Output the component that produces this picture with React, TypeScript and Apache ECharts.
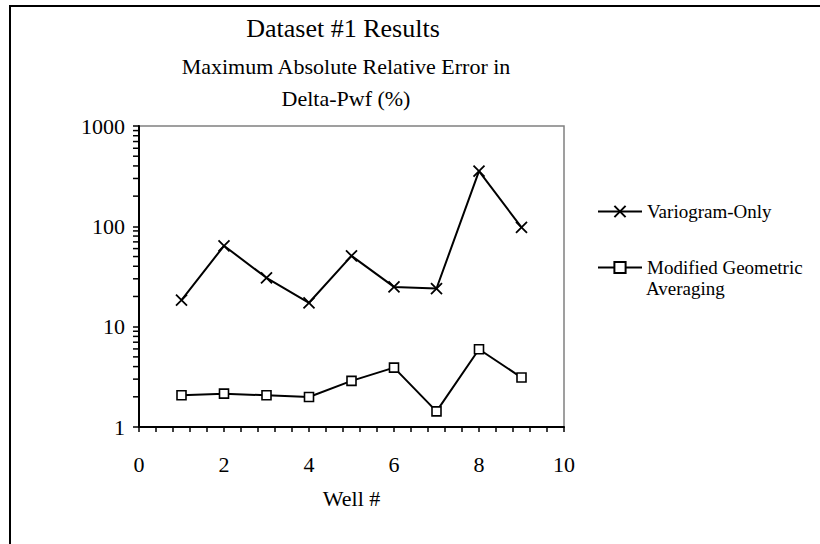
import React, { useEffect, useRef } from "react";
import * as echarts from "echarts";

const wells = [1, 2, 3, 4, 5, 6, 7, 8, 9];
const variogramOnly = [18.4, 64, 30.7, 17.3, 50.8, 24.9, 24.0, 355, 97.5];
const modifiedGeo = [2.07, 2.15, 2.07, 1.99, 2.88, 3.91, 1.43, 5.96, 3.11];
const yMinorTickValues = [2, 3, 4, 5, 6, 7, 8, 9, 20, 30, 40, 50, 60, 70, 80, 90, 200, 300, 400, 500, 600, 700, 800, 900];
const titleText = "Dataset #1 Results";
const subtitleText = "Maximum Absolute Relative Error in\nDelta-Pwf (%)";
const xAxisName = "Well #";
const seriesNames = ["Variogram-Only", "Modified Geometric Averaging"];

const FONT = "'Liberation Serif', 'Times New Roman', serif";

export default function App() {
  const ref = useRef<HTMLDivElement>(null);
  useEffect(() => {
    if (!ref.current) return;
    const chart = echarts.init(ref.current, null, { renderer: "svg" });
    const option = {
      animation: false,
      backgroundColor: "#fff",
      title: [
        {
          text: titleText,
          left: 343,
          textAlign: "center",
          top: 15,
          padding: 0,
          textStyle: { fontFamily: FONT, fontSize: 26, fontWeight: "normal", color: "#000" },
        },
        {
          text: subtitleText,
          left: 346,
          textAlign: "center",
          top: 50,
          padding: 0,
          textStyle: { fontFamily: FONT, fontSize: 22, fontWeight: "normal", color: "#000", lineHeight: 32 },
        },
      ],
      legend: [
        {
          data: [seriesNames[0]],
          orient: "vertical",
          left: 597,
          top: 202,
          itemWidth: 44,
          itemHeight: 14,
          padding: 0,
          textStyle: { fontFamily: FONT, fontSize: 19, color: "#000" },
        },
        {
          data: [seriesNames[1]],
          orient: "vertical",
          left: 597,
          top: 258,
          itemWidth: 44,
          itemHeight: 14,
          padding: 0,
          formatter: () => "Modified Geometric",
          textStyle: { fontFamily: FONT, fontSize: 19, color: "#000" },
        },
      ],
      graphic: [
        {
          type: "rect",
          shape: { x: 10, y: 6, width: 900, height: 600 },
          style: { fill: "none", stroke: "#000", lineWidth: 2 },
          silent: true,
        },
        {
          type: "text",
          x: 646,
          y: 288,
          style: { text: "Averaging", font: `19px ${FONT}`, fill: "#000", verticalAlign: "middle" },
        },
      ],
      grid: {
        left: 139,
        right: 256,
        top: 126,
        bottom: 117,
        show: true,
        borderColor: "#808080",
        borderWidth: 1.5,
        backgroundColor: "transparent",
      },
      xAxis: {
        type: "value",
        min: 0,
        max: 10,
        interval: 2,
        name: xAxisName,
        nameLocation: "middle",
        nameGap: 60,
        nameTextStyle: { fontFamily: FONT, fontSize: 22, color: "#000" },
        axisLine: { show: true, lineStyle: { color: "#000", width: 2 } },
        axisTick: { show: true, length: 5, lineStyle: { color: "#000", width: 1.5 } },
        minorTick: { show: true, splitNumber: 5, length: 5, lineStyle: { color: "#000", width: 1.5 } },
        splitLine: { show: false },
        axisLabel: { fontFamily: FONT, fontSize: 22, color: "#000", margin: 26 },
      },
      yAxis: {
        type: "log",
        logBase: 10,
        min: 1,
        max: 1000,
        axisLine: { show: true, lineStyle: { color: "#000", width: 2 } },
        axisTick: { show: true, length: 6, lineStyle: { color: "#000", width: 1.5 } },
        splitLine: { show: false },
        axisLabel: {
          fontFamily: FONT,
          fontSize: 22,
          color: "#000",
          margin: 14,
          formatter: (v: number) => String(Math.round(v)),
        },
      },
      series: [
        {
          name: seriesNames[0],
          type: "line",
          data: wells.map((w, i) => [w, variogramOnly[i]]),
          symbol: "path://M0,0L10,10M0,10L10,0",
          symbolSize: 11,
          lineStyle: { color: "#000", width: 2 },
          itemStyle: { color: "#000", borderColor: "#000", borderWidth: 1.8 },
          z: 3,
        },
        {
          name: seriesNames[1],
          type: "line",
          data: wells.map((w, i) => [w, modifiedGeo[i]]),
          symbol: "rect",
          symbolSize: 9,
          lineStyle: { color: "#000", width: 2 },
          itemStyle: { color: "#fff", borderColor: "#000", borderWidth: 1.6 },
          z: 3,
        },
        {
          name: "yMinorTicks",
          type: "custom",
          clip: false,
          silent: true,
          data: yMinorTickValues.map((v) => [0, v]),
          encode: { x: 0, y: 1 },
          renderItem: (params: any, api: any) => {
            const p = api.coord([0, api.value(1)]);
            return {
              type: "line",
              shape: { x1: p[0] - 6, y1: p[1], x2: p[0], y2: p[1] },
              style: { stroke: "#000", lineWidth: 1.5 },
            };
          },
          z: 1,
        },
      ],
    };
    chart.setOption(option as any);
    return () => chart.dispose();
  }, []);
  return <div ref={ref} style={{ position: "fixed", left: 0, top: 0, width: 820, height: 544 }} />;
}
